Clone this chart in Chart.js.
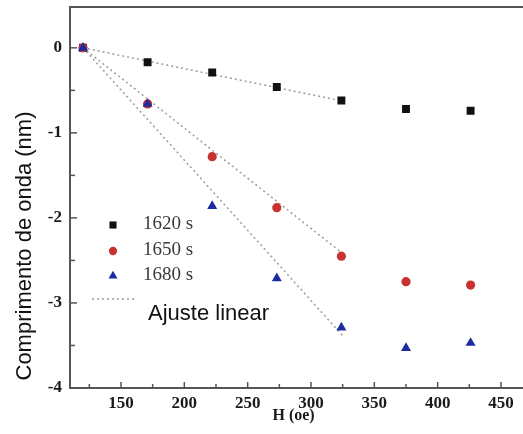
<!DOCTYPE html>
<html><head><meta charset="utf-8">
<script src="https://cdn.jsdelivr.net/npm/chart.js@4/dist/chart.umd.min.js"></script>
<style>html,body{margin:0;padding:0;background:#fff}#wrap{width:523px;height:434px}</style>
</head><body><div id="wrap"><canvas id="c" width="523" height="434"></canvas></div>
<script>
const fieldH = [120, 171, 222, 273, 324, 375, 426];
const shift1620 = [0, -0.17, -0.29, -0.46, -0.62, -0.72, -0.74];
const shift1650 = [0, -0.66, -1.28, -1.88, -2.45, -2.75, -2.79];
const shift1680 = [0, -0.66, -1.86, -2.71, -3.29, -3.53, -3.47];
const fitH = [120, 326];
const fit1620 = [0, -0.63];
const fit1650 = [0, -2.43];
const fit1680 = [0, -3.40];
const xTickLabels = [150, 200, 250, 300, 350, 400, 450];
const xMinorTicks = [125, 175, 225, 275, 325, 375, 425];
const yTickLabels = [0, -1, -2, -3, -4];
const yMinorTicks = [-0.5, -1.5, -2.5, -3.5];
const seriesNames = ['1620 s', '1650 s', '1680 s'];
const seriesColors = ['#111111', '#c83232', '#1c2ca0'];
const seriesShapes = ['rect', 'circle', 'triangle'];
const seriesRadius = [5.6, 4.6, 5.8];
const fitName = 'Ajuste linear';
const xTitle = 'H (oe)';
const yTitle = 'Comprimento de onda (nm)';

const pts = (xs, ys) => xs.map((x, i) => ({x: x, y: ys[i]}));
const fitColor = '#9c9c9c';
const axisColor = '#555';

function fitSet(ys) {
  return {type: 'line', data: pts(fitH, ys), borderColor: fitColor, borderWidth: 1.5,
    borderDash: [2, 3], pointRadius: 0, fill: false, order: 10, tension: 0};
}
function pointSet(i, ys) {
  return {type: 'scatter', label: seriesNames[i], data: pts(fieldH, ys),
    pointStyle: seriesShapes[i], pointRadius: seriesRadius[i], pointHoverRadius: seriesRadius[i],
    backgroundColor: seriesColors[i], borderColor: seriesColors[i], borderWidth: 0,
    order: 3 - i};
}
function zeroPad(s) { s.paddingLeft = 0; s.paddingRight = 0; s.paddingTop = 0; s.paddingBottom = 0; }

const overlay = {
  id: 'overlay',
  afterDraw(chart) {
    const ctx = chart.ctx;
    const xs = chart.scales.x, ys = chart.scales.y;
    const a = chart.chartArea;
    ctx.save();
    ctx.strokeStyle = axisColor; ctx.lineWidth = 2;
    ctx.beginPath(); ctx.moveTo(a.left - 1, a.top); ctx.lineTo(chart.width, a.top); ctx.stroke();
    ctx.beginPath(); ctx.moveTo(a.right - 1, a.bottom); ctx.lineTo(chart.width, a.bottom); ctx.stroke();
    ctx.lineWidth = 1.5;
    const tick = (x1, y1, x2, y2) => { ctx.beginPath(); ctx.moveTo(x1, y1); ctx.lineTo(x2, y2); ctx.stroke(); };
    xTickLabels.forEach(v => { const p = xs.getPixelForValue(v); tick(p, a.bottom, p, a.bottom - 6); });
    xMinorTicks.forEach(v => { const p = xs.getPixelForValue(v); tick(p, a.bottom, p, a.bottom - 4); });
    yTickLabels.forEach(v => { const p = ys.getPixelForValue(v); tick(a.left, p, a.left + 7, p); });
    yMinorTicks.forEach(v => { const p = ys.getPixelForValue(v); tick(a.left, p, a.left + 5, p); });
    ctx.save();
    ctx.translate(25, 246);
    ctx.rotate(-Math.PI / 2);
    ctx.fillStyle = '#111';
    ctx.font = '22px "Liberation Sans", Arial, sans-serif';
    ctx.textAlign = 'center'; ctx.textBaseline = 'middle';
    ctx.fillText(yTitle, 0, 0);
    ctx.restore();
    const ly = [225, 251, 276];
    ctx.font = '19px "Liberation Serif", "Times New Roman", serif';
    ctx.textAlign = 'left'; ctx.textBaseline = 'middle';
    seriesNames.forEach((n, i) => {
      ctx.fillStyle = seriesColors[i];
      Chart.helpers.drawPoint(ctx, {pointStyle: seriesShapes[i], radius: seriesRadius[i] * 0.9, rotation: 0, borderWidth: 0}, 113, ly[i]);
      ctx.fillStyle = '#3a3a3a';
      ctx.fillText(n, 143, ly[i] - 1);
    });
    ctx.strokeStyle = fitColor; ctx.lineWidth = 1.5; ctx.setLineDash([2, 3]);
    tick(92, 299, 137, 299);
    ctx.setLineDash([]);
    ctx.fillStyle = '#111';
    ctx.font = '22px "Liberation Sans", Arial, sans-serif';
    ctx.textBaseline = 'alphabetic';
    ctx.fillText(fitName, 148, 320);
    ctx.restore();
  }
};

new Chart(document.getElementById('c'), {
  data: {
    datasets: [
      fitSet(fit1620), fitSet(fit1650), fitSet(fit1680),
      pointSet(0, shift1620), pointSet(1, shift1650), pointSet(2, shift1680)
    ]
  },
  options: {
    responsive: false, animation: false, devicePixelRatio: 1,
    layout: {padding: {left: 0, right: 0, top: 7, bottom: 0}},
    plugins: {legend: {display: false}, tooltip: {enabled: false}},
    scales: {
      x: {
        type: 'linear', min: 109.74, max: 462.8,
        afterBuildTicks: s => { s.ticks = xTickLabels.map(v => ({value: v})); },
        afterFit: s => { s.height = 46; zeroPad(s); },
        grid: {display: false, drawTicks: false},
        border: {display: true, color: axisColor, width: 2},
        ticks: {padding: 5, color: '#1a1a1a', font: {family: '"Liberation Serif", serif', size: 17, weight: 'bold'}},
        title: {display: true, text: xTitle, color: '#1a1a1a', padding: {top: 0, bottom: 9},
          font: {family: '"Liberation Serif", serif', size: 16, weight: 'bold'}}
      },
      y: {
        type: 'linear', min: -4, max: 0.48,
        afterBuildTicks: s => { s.ticks = yTickLabels.map(v => ({value: v})); },
        afterFit: s => { s.width = 70; zeroPad(s); },
        grid: {display: false, drawTicks: false},
        border: {display: true, color: axisColor, width: 2},
        ticks: {padding: 8, color: '#1a1a1a', font: {family: '"Liberation Serif", serif', size: 17, weight: 'bold'}}
      }
    }
  },
  plugins: [overlay]
});
</script>
</body></html>
